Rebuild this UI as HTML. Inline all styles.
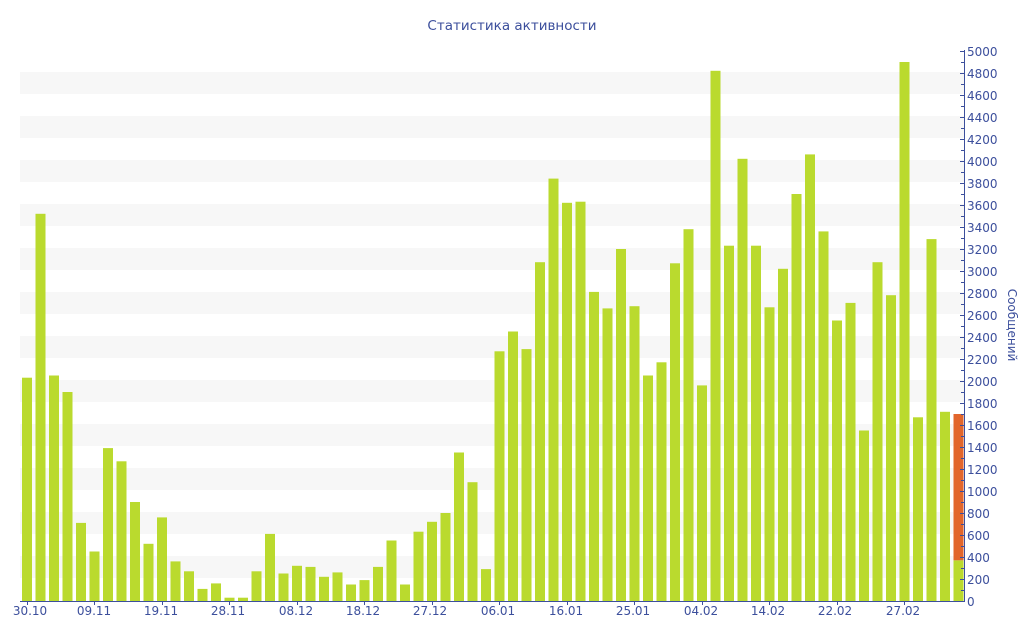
<!DOCTYPE html>
<html><head><meta charset="utf-8"><style>body{margin:0;background:#fff}svg{display:block}text{font-family:"DejaVu Sans","Liberation Sans",sans-serif;fill:#3c4f9c}</style></head>
<body>
<svg width="1024" height="640" viewBox="0 0 1024 640" xmlns="http://www.w3.org/2000/svg">
<text x="512" y="30" font-size="13.5" text-anchor="middle">Статистика активности</text>
<g fill="#f7f7f7">
<rect x="20" y="72" width="944" height="22"/><rect x="20" y="116" width="944" height="22"/><rect x="20" y="160" width="944" height="22"/><rect x="20" y="204" width="944" height="22"/><rect x="20" y="248" width="944" height="22"/><rect x="20" y="292" width="944" height="22"/><rect x="20" y="336" width="944" height="22"/><rect x="20" y="380" width="944" height="22"/><rect x="20" y="424" width="944" height="22"/><rect x="20" y="468" width="944" height="22"/><rect x="20" y="512" width="944" height="22"/><rect x="20" y="556" width="944" height="22"/>
</g>
<g transform="translate(0,601) scale(1,-0.11)" fill="#bada2e">
<rect x="22" y="0" width="10" height="2030"/><rect x="35.5" y="0" width="10" height="3520"/><rect x="49" y="0" width="10" height="2050"/><rect x="62.5" y="0" width="10" height="1900"/><rect x="76" y="0" width="10" height="710"/><rect x="89.5" y="0" width="10" height="450"/><rect x="103" y="0" width="10" height="1390"/><rect x="116.5" y="0" width="10" height="1270"/><rect x="130" y="0" width="10" height="900"/><rect x="143.5" y="0" width="10" height="520"/>
<rect x="157" y="0" width="10" height="760"/><rect x="170.5" y="0" width="10" height="360"/><rect x="184" y="0" width="10" height="270"/><rect x="197.5" y="0" width="10" height="110"/><rect x="211" y="0" width="10" height="160"/><rect x="224.5" y="0" width="10" height="30"/><rect x="238" y="0" width="10" height="30"/><rect x="251.5" y="0" width="10" height="270"/><rect x="265" y="0" width="10" height="610"/><rect x="278.5" y="0" width="10" height="250"/>
<rect x="292" y="0" width="10" height="320"/><rect x="305.5" y="0" width="10" height="310"/><rect x="319" y="0" width="10" height="220"/><rect x="332.5" y="0" width="10" height="260"/><rect x="346" y="0" width="10" height="150"/><rect x="359.5" y="0" width="10" height="190"/><rect x="373" y="0" width="10" height="310"/><rect x="386.5" y="0" width="10" height="550"/><rect x="400" y="0" width="10" height="150"/><rect x="413.5" y="0" width="10" height="630"/>
<rect x="427" y="0" width="10" height="720"/><rect x="440.5" y="0" width="10" height="800"/><rect x="454" y="0" width="10" height="1350"/><rect x="467.5" y="0" width="10" height="1080"/><rect x="481" y="0" width="10" height="290"/><rect x="494.5" y="0" width="10" height="2270"/><rect x="508" y="0" width="10" height="2450"/><rect x="521.5" y="0" width="10" height="2290"/><rect x="535" y="0" width="10" height="3080"/><rect x="548.5" y="0" width="10" height="3840"/>
<rect x="562" y="0" width="10" height="3620"/><rect x="575.5" y="0" width="10" height="3630"/><rect x="589" y="0" width="10" height="2810"/><rect x="602.5" y="0" width="10" height="2660"/><rect x="616" y="0" width="10" height="3200"/><rect x="629.5" y="0" width="10" height="2680"/><rect x="643" y="0" width="10" height="2050"/><rect x="656.5" y="0" width="10" height="2170"/><rect x="670" y="0" width="10" height="3070"/><rect x="683.5" y="0" width="10" height="3380"/>
<rect x="697" y="0" width="10" height="1960"/><rect x="710.5" y="0" width="10" height="4820"/><rect x="724" y="0" width="10" height="3230"/><rect x="737.5" y="0" width="10" height="4020"/><rect x="751" y="0" width="10" height="3230"/><rect x="764.5" y="0" width="10" height="2670"/><rect x="778" y="0" width="10" height="3020"/><rect x="791.5" y="0" width="10" height="3700"/><rect x="805" y="0" width="10" height="4060"/><rect x="818.5" y="0" width="10" height="3360"/>
<rect x="832" y="0" width="10" height="2550"/><rect x="845.5" y="0" width="10" height="2710"/><rect x="859" y="0" width="10" height="1550"/><rect x="872.5" y="0" width="10" height="3080"/><rect x="886" y="0" width="10" height="2780"/><rect x="899.5" y="0" width="10" height="4900"/><rect x="913" y="0" width="10" height="1670"/><rect x="926.5" y="0" width="10" height="3290"/><rect x="940" y="0" width="10" height="1720"/><rect x="953.5" y="0" width="10" height="370"/>
<rect x="953.5" y="370" width="10" height="1330" fill="#e2662c"/>
</g>
<g stroke="#3c4f9c" stroke-width="1">
<line x1="20" y1="601.5" x2="964" y2="601.5"/>
<line x1="964.5" y1="50" x2="964.5" y2="602"/>
</g>
<g stroke="#3c4f9c" stroke-width="1">
<path d="M960 51.5h5M960 73.5h5M960 95.5h5M960 117.5h5M960 139.5h5M960 161.5h5M960 183.5h5M960 205.5h5M960 227.5h5M960 249.5h5M960 271.5h5M960 293.5h5M960 315.5h5M960 337.5h5M960 359.5h5M960 381.5h5M960 403.5h5M960 425.5h5M960 447.5h5M960 469.5h5M960 491.5h5M960 513.5h5M960 535.5h5M960 557.5h5M960 579.5h5"/>
<path d="M961 62.5h3M961 84.5h3M961 106.5h3M961 128.5h3M961 150.5h3M961 172.5h3M961 194.5h3M961 216.5h3M961 238.5h3M961 260.5h3M961 282.5h3M961 304.5h3M961 326.5h3M961 348.5h3M961 370.5h3M961 392.5h3M961 414.5h3M961 436.5h3M961 458.5h3M961 480.5h3M961 502.5h3M961 524.5h3M961 546.5h3M961 568.5h3M961 590.5h3"/>
<path d="M27.5 601v4M94.5 601v4M162.5 601v4M229.5 601v4M297.5 601v4M364.5 601v4M432.5 601v4M499.5 601v4M567.5 601v4M634.5 601v4M702.5 601v4M769.5 601v4M837.5 601v4M904.5 601v4"/>
</g>
<g font-size="12">
<text x="967" y="56">5000</text><text x="967" y="78">4800</text><text x="967" y="100">4600</text><text x="967" y="122">4400</text><text x="967" y="144">4200</text><text x="967" y="166">4000</text><text x="967" y="188">3800</text><text x="967" y="210">3600</text><text x="967" y="232">3400</text><text x="967" y="254">3200</text><text x="967" y="276">3000</text><text x="967" y="298">2800</text><text x="967" y="320">2600</text><text x="967" y="342">2400</text><text x="967" y="364">2200</text><text x="967" y="386">2000</text><text x="967" y="408">1800</text><text x="967" y="430">1600</text><text x="967" y="452">1400</text><text x="967" y="474">1200</text><text x="967" y="496">1000</text><text x="967" y="518">800</text><text x="967" y="540">600</text><text x="967" y="562">400</text><text x="967" y="584">200</text><text x="967" y="606">0</text>
</g>
<g font-size="12" text-anchor="middle">
<text x="30" y="615">30.10</text><text x="94" y="615">09.11</text><text x="161" y="615">19.11</text><text x="228" y="615">28.11</text><text x="296" y="615">08.12</text><text x="363" y="615">18.12</text><text x="430" y="615">27.12</text><text x="498" y="615">06.01</text><text x="566" y="615">16.01</text><text x="633" y="615">25.01</text><text x="701" y="615">04.02</text><text x="768" y="615">14.02</text><text x="835" y="615">22.02</text><text x="903" y="615">27.02</text>
</g>
<text x="1008" y="325" font-size="12" text-anchor="middle" transform="rotate(90 1008 325)">Сообщений</text>
</svg>
</body></html>
